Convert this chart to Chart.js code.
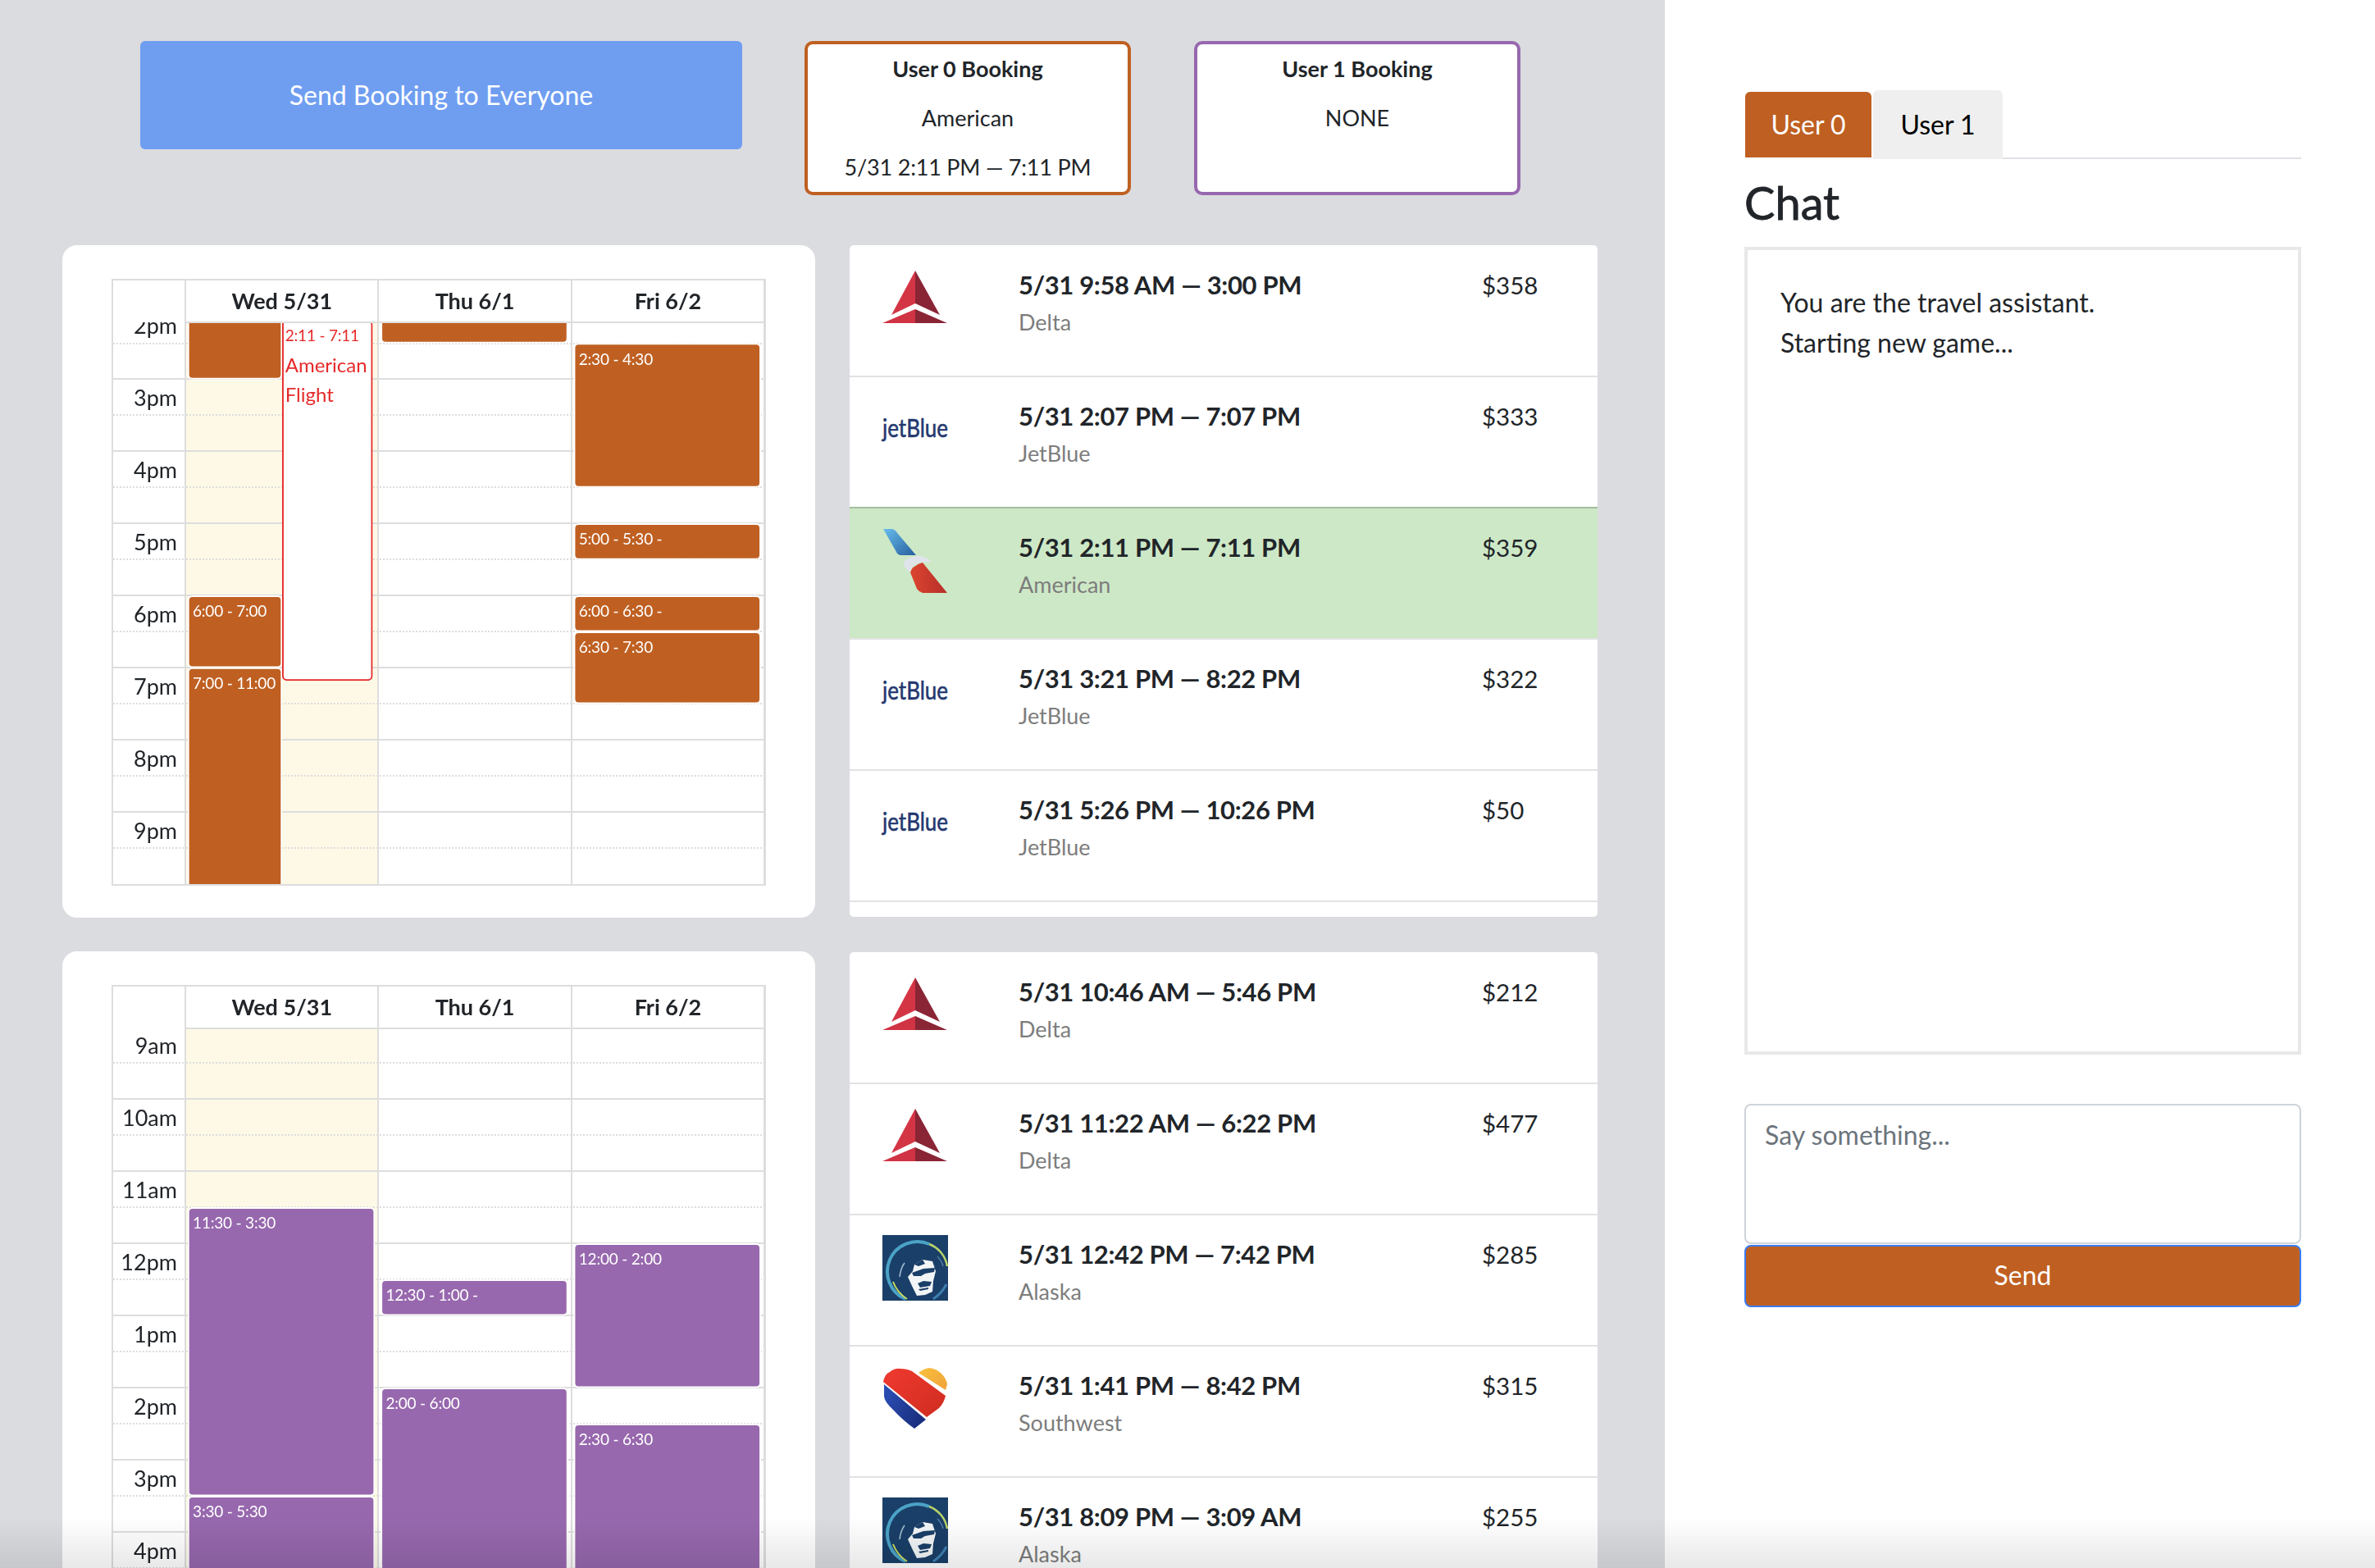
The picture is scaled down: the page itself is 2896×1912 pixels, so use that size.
<!DOCTYPE html>
<html>
<head>
<meta charset="utf-8">
<title>Travel booking</title>
<script src="https://cdn.jsdelivr.net/npm/chart.js@4"></script>
<style>
    html, body { margin: 0; padding: 0; width: 2896px; height: 1912px; overflow: hidden; background: #dbdce0; font-family: Lato, sans-serif; color: #212529; }
    .abs { position: absolute; }
    .mid { position: absolute; transform: translateY(-50%); white-space: nowrap; line-height: 1.2; }
    .center { text-align: center; }
    .card { position: absolute; left: 76px; width: 918px; background: #fff; border-radius: 18px; }
    .panel { position: absolute; left: 2030px; top: 0; width: 866px; height: 1912px; background: #fff; }
    .sendAll { left: 171px; top: 50px; width: 734px; height: 132px; background: #6f9ef1; border-radius: 6px; }
    .booking { top: 50px; width: 390px; height: 180px; background: #fff; border: 4px solid; border-radius: 10px; }
    .frame { position: absolute; left: 136px; width: 794px; border: 2px solid #ddd; background: #fff; overflow: hidden; }
    .frame canvas { display: block; }
    .list { position: absolute; left: 1036px; width: 912px; background: #fff; border-radius: 5px; overflow: hidden; }
    .row { position: absolute; left: 0; width: 912px; height: 158px; border-bottom: 2px solid #e1e2e4; }
    .row.selected { background: #cde8c6; border-top: 2px solid #a2bd9f; margin-top: -2px; }
    .row svg { position: absolute; left: 40px; top: 24px; width: 80px; height: 80px; overflow: visible; }
    .time { left: 206px; top: 48px; font-size: 31px; font-weight: bold; letter-spacing: -0.35px; }
    .airline { left: 206px; top: 93px; font-size: 27px; color: #7d7d7d; }
    .price { left: 771px; top: 48px; font-size: 29.5px; }
    .overlay { position: absolute; left: 0; top: 1850px; width: 2896px; height: 62px; background: linear-gradient(rgba(0,0,0,0), rgba(0,0,0,0.09)); pointer-events: none; }
</style>
</head>
<body>
<svg width="0" height="0" style="position:absolute;">
    <defs>
        <linearGradient id="aaBlue" x1="0" y1="0" x2="1" y2="1"><stop offset="0" stop-color="#68bdec"/><stop offset="1" stop-color="#27609f"/></linearGradient>
        <linearGradient id="aaRed" x1="0" y1="0" x2="1" y2="0"><stop offset="0" stop-color="#dc442f"/><stop offset="1" stop-color="#b5302a"/></linearGradient>
        <linearGradient id="swRed" x1="0" y1="0" x2="1" y2="1"><stop offset="0" stop-color="#f03a30"/><stop offset="1" stop-color="#cf2c20"/></linearGradient>
        <linearGradient id="swBlue" x1="0" y1="0" x2="1" y2="0.5"><stop offset="0" stop-color="#2c50b8"/><stop offset="1" stop-color="#1a2f80"/></linearGradient>
        <linearGradient id="swYellow" x1="0" y1="0" x2="1" y2="1"><stop offset="0" stop-color="#f8c040"/><stop offset="1" stop-color="#f0a238"/></linearGradient>
    </defs>
</svg>

<div class="abs sendAll"></div>
<div class="mid center" style="left:171px;width:734px;top:116px;font-size:32px;color:#fff;">Send Booking to Everyone</div>

<div class="abs booking" style="left:981px;border-color:#bf6022;"></div>
<div class="mid center" style="left:981px;width:398px;top:84px;font-size:27px;font-weight:bold;">User 0 Booking</div>
<div class="mid center" style="left:981px;width:398px;top:144px;font-size:27px;">American</div>
<div class="mid center" style="left:981px;width:398px;top:204px;font-size:27px;letter-spacing:-0.2px;">5/31 2:11 PM — 7:11 PM</div>

<div class="abs booking" style="left:1456px;border-color:#9768ae;"></div>
<div class="mid center" style="left:1456px;width:398px;top:84px;font-size:27px;font-weight:bold;">User 1 Booking</div>
<div class="mid center" style="left:1456px;width:398px;top:144px;font-size:27px;">NONE</div>

<div class="card" style="top:299px;height:820px;"></div>
<div class="card" style="top:1160px;height:800px;"></div>
<div class="frame" style="top:340px;height:736px;"><canvas id="calendarUser0" width="794" height="736"></canvas></div>
<div class="frame" style="top:1201px;height:711px;"><canvas id="calendarUser1" width="794" height="711"></canvas></div>

<div class="list" id="listUser0" style="top:299px;height:819px;"></div>
<div class="list" id="listUser1" style="top:1161px;height:800px;"></div>

<div class="panel"></div>
<div class="abs" style="left:2442px;top:192px;width:364px;height:2px;background:#dee2e6;"></div>
<div class="abs" style="left:2128px;top:112px;width:154px;height:80px;background:#bf6022;border-radius:6px 6px 0 0;"></div>
<div class="abs" style="left:2284px;top:110px;width:158px;height:84px;background:#efefef;border-radius:6px 6px 0 0;"></div>
<div class="mid center" style="left:2128px;width:154px;top:152px;font-size:32px;color:#fff;">User 0</div>
<div class="mid center" style="left:2284px;width:158px;top:152px;font-size:32px;color:#000;">User 1</div>
<div class="mid" style="left:2127px;top:247px;font-size:56px;-webkit-text-stroke:0.8px #212529;">Chat</div>
<div class="abs" style="left:2127px;top:301px;width:671px;height:977px;border:4px solid #e8e8e8;"></div>
<div class="mid" style="left:2171px;top:369px;font-size:32px;">You are the travel assistant.</div>
<div class="mid" style="left:2171px;top:418px;font-size:32px;">Starting new game...</div>
<div class="abs" style="left:2127px;top:1346px;width:675px;height:167px;border:2px solid #ced4da;border-radius:8px;background:#fff;"></div>
<div class="mid" style="left:2152px;top:1384px;font-size:32px;color:#6c757d;">Say something...</div>
<div class="abs" style="left:2127px;top:1518px;width:675px;height:72px;border:2px solid #3b7cf0;border-radius:8px;background:#bf6022;"></div>
<div class="mid center" style="left:2127px;width:679px;top:1555px;font-size:32px;color:#fff;">Send</div>
<div class="overlay"></div>

<script>
const ORANGE = '#bf6022';
const PURPLE = '#9768ae';
const FLIGHT_RED = '#e62a2a';

const dayLabels = ['Wed 5/31', 'Thu 6/1', 'Fri 6/2'];
const todayIndex = 0;

// top calendar (user 0)
const user0Hours = [14, 15, 16, 17, 18, 19, 20, 21];
const user0HourLabels = ['2pm', '3pm', '4pm', '5pm', '6pm', '7pm', '8pm', '9pm'];
const user0Days = [0, 0, 0, 1, 2, 2, 2, 2];
const user0Starts = [13, 18, 19, 12.5, 14.5, 17, 18, 18.5];
const user0Ends = [15, 19, 23, 14.5, 16.5, 17.5, 18.5, 19.5];
const user0Labels = ['', '6:00 - 7:00', '7:00 - 11:00', '', '2:30 - 4:30', '5:00 - 5:30 -', '6:00 - 6:30 -', '6:30 - 7:30'];

const flightDay = 0;
const flightStart = 14.18;
const flightEnd = 19.18;
const flightLabel = '2:11 - 7:11';
const flightTitle = ['American', 'Flight'];

// bottom calendar (user 1)
const user1Hours = [9, 10, 11, 12, 13, 14, 15, 16];
const user1HourLabels = ['9am', '10am', '11am', '12pm', '1pm', '2pm', '3pm', '4pm'];
const user1Days = [0, 0, 1, 1, 2, 2];
const user1Starts = [11.5, 15.5, 12.5, 14, 12, 14.5];
const user1Ends = [15.5, 17.5, 13, 18, 14, 18.5];
const user1Labels = ['11:30 - 3:30', '3:30 - 5:30', '12:30 - 1:00 -', '2:00 - 6:00', '12:00 - 2:00', '2:30 - 6:30'];

// flight lists
const user0Times = ['5/31 9:58 AM — 3:00 PM', '5/31 2:07 PM — 7:07 PM', '5/31 2:11 PM — 7:11 PM', '5/31 3:21 PM — 8:22 PM', '5/31 5:26 PM — 10:26 PM'];
const user0Airlines = ['Delta', 'JetBlue', 'American', 'JetBlue', 'JetBlue'];
const user0Prices = ['$358', '$333', '$359', '$322', '$50'];
const user1Times = ['5/31 10:46 AM — 5:46 PM', '5/31 11:22 AM — 6:22 PM', '5/31 12:42 PM — 7:42 PM', '5/31 1:41 PM — 8:42 PM', '5/31 8:09 PM — 3:09 AM'];
const user1Airlines = ['Delta', 'Delta', 'Alaska', 'Southwest', 'Alaska'];
const user1Prices = ['$212', '$477', '$285', '$315', '$255'];

const logos = {
    Delta: '<polygon points="40,6 40,46 11,60" fill="#d43545"/><polygon points="40,6 70,60 40,46" fill="#8a2535"/><polygon points="40,53 0,70 40,70" fill="#d03343"/><polygon points="40,53 79,70 40,70" fill="#8a2535"/>',
    JetBlue: '<text x="0" y="49" font-family="Lato" font-size="31" fill="#24386f" stroke="#24386f" stroke-width="0.6" textLength="80" lengthAdjust="spacingAndGlyphs">jetBlue</text>',
    American: '<path d="M1,1 L12,1 Q16,2 19,7 L41,33 L22,33 Q18,32 17,29 Z" fill="url(#aaBlue)"/><path d="M26,41 Q28,38 31,37 Q40,33 47,34 Q55,36 60,41 L47,42 Q40,43 37,47 L33,54 Q29,50 27,47 Z" fill="#dfe4ea"/><path d="M49,42 L79,79 L49,79 Q45,78 42,74 L34,54 Q36,48 39,47 Q44,43 49,42 Z" fill="url(#aaRed)"/>',
    Alaska: '<rect width="80" height="80" fill="#1a3f68"/><path d="M57,11 A35,35 0 0 0 28,78" fill="none" stroke="#4ba3c7" stroke-width="4"/><path d="M57,11 A35,35 0 0 1 79,38" fill="none" stroke="#b7d36b" stroke-width="2.5"/><path d="M13,57 C17,68 24,74 30,78" fill="none" stroke="#c8dc5a" stroke-width="2"/><path d="M21,51 C22,42 24,38 27,34" fill="none" stroke="#a9c3d3" stroke-width="1.5"/><path d="M67,26 C71,30 73,34 74,38" fill="none" stroke="#4f7fa3" stroke-width="1.5"/><path d="M78,60 C74,68 68,74 62,78" fill="none" stroke="#3d7fb0" stroke-width="3"/><polygon points="39,36 49,30 61,32 65,44 62,56 61,69 52,73 42,74 36,62 31,51 37,44" fill="#f2f5f6"/><polygon points="36,46 50,41 64,40 63,45 52,47 47,50 38,50" fill="#1a3f68"/><polygon points="43,59 50,56 60,57 58,62 46,64" fill="#1a3f68"/><polygon points="39,36 49,30 52,35 44,38" fill="#1a3f68"/><polygon points="44,66 56,64 56,66 46,68" fill="#1a3f68"/>',
    Southwest: '<path d="M1,19 Q3,9 9,7 Q15,2 22,3 Q30,3 36,6 L77,36 Q75,45 69,51 L54,62 Z" fill="url(#swRed)"/><path d="M44,8 Q50,3 57,2 Q66,3 72,9 Q78,15 79,22 L77,29 Z" fill="url(#swYellow)"/><path d="M2,22 L53,65 L39,76 Q25,66 14,54 Q3,44 2,37 Z" fill="url(#swBlue)"/>'
};

function renderFlightList(containerId, times, airlines, prices, selectedIndex) {
    const container = document.getElementById(containerId);
    times.forEach((time, index) => {
        const row = document.createElement('div');
        row.className = index === selectedIndex ? 'row selected' : 'row';
        row.style.top = `${index * 160 + 1}px`;
        row.innerHTML = `<svg viewBox="0 0 80 80">${logos[airlines[index]]}</svg>
            <div class="mid time">${time}</div>
            <div class="mid airline">${airlines[index]}</div>
            <div class="mid price">${prices[index]}</div>`;
        container.appendChild(row);
    });
}

function buildEvents(days, starts, ends, labels, keep) {
    return days
        .map((day, index) => ({ day, y: [starts[index], ends[index]], label: labels[index] }))
        .filter(event => keep(event));
}

const calendarPlugin = {
    id: 'calendarPlugin',
    beforeDraw(chart) {
        const { ctx, chartArea, scales } = chart;
        const left = scales.x.getPixelForValue(todayIndex);
        const right = scales.x.getPixelForValue(todayIndex + 1);
        ctx.save();
        ctx.fillStyle = '#fdf9e6';
        ctx.fillRect(left, chartArea.top, right - left, chartArea.bottom - chartArea.top);
        ctx.restore();
    },
    afterDatasetsDraw(chart) {
        const { ctx, chartArea } = chart;
        ctx.save();
        ctx.beginPath();
        ctx.rect(chartArea.left, chartArea.top, chartArea.right - chartArea.left, chartArea.bottom - chartArea.top);
        ctx.clip();
        ctx.textBaseline = 'middle';
        ctx.textAlign = 'left';
        chart.data.datasets.forEach((dataset, datasetIndex) => {
            chart.getDatasetMeta(datasetIndex).data.forEach((bar, index) => {
                const event = dataset.data[index];
                const props = bar.getProps(['x', 'y', 'base', 'width']);
                const top = Math.min(props.y, props.base);
                const left = props.x - props.width / 2 + dataset.textInset;
                ctx.fillStyle = dataset.textColor;
                ctx.font = '19px Lato';
                ctx.letterSpacing = '-0.2px';
                ctx.fillText(event.label, left, top + 20);
                (event.title || []).forEach((line, lineIndex) => {
                    ctx.font = '24px Lato';
                    ctx.letterSpacing = '0px';
                    ctx.fillText(line, left, top + 56 + lineIndex * 36);
                });
            });
        });
        ctx.restore();
        // header row hides whatever hour label scrolled under it
        ctx.save();
        ctx.fillStyle = '#fff';
        ctx.fillRect(0, 0, chart.width, chartArea.top);
        ctx.restore();
    }
};

function eventDataset(events, centre, thickness, color) {
    return {
        data: events.map(event => ({ x: event.day + centre, y: event.y, label: event.label })),
        backgroundColor: color,
        borderColor: '#fff',
        borderWidth: 2,
        borderRadius: 6,
        borderSkipped: false,
        barThickness: thickness,
        grouped: false,
        clip: 0,
        textColor: '#fff',
        textInset: 6
    };
}

function renderCalendar(canvasId, hours, hourLabels, yMin, yMax, datasets) {
    const isHalfHour = value => value % 1 !== 0;
    new Chart(document.getElementById(canvasId), {
        type: 'bar',
        data: { datasets },
        plugins: [calendarPlugin],
        options: {
            responsive: false,
            animation: false,
            events: [],
            layout: { padding: 0 },
            plugins: { legend: { display: false }, tooltip: { enabled: false } },
            scales: {
                x: {
                    type: 'linear',
                    position: 'top',
                    min: 0,
                    max: dayLabels.length,
                    offset: false,
                    afterBuildTicks: axis => { axis.ticks = [0, 1, 2, 3].map(value => ({ value })); },
                    afterFit: axis => { axis.height = 51; },
                    grid: { z: 1, color: '#ddd', lineWidth: 2, tickLength: 51, offset: false },
                    border: { z: 1, color: '#ddd', width: 2 },
                    ticks: {
                        z: 1,
                        autoSkip: false,
                        maxRotation: 0,
                        minRotation: 0,
                        labelOffset: 117.75,
                        padding: -42,
                        color: '#212529',
                        font: { family: 'Lato', size: 27, weight: 'bold' },
                        callback: value => dayLabels[value] || ''
                    }
                },
                y: {
                    type: 'linear',
                    reverse: true,
                    min: yMin,
                    max: yMax,
                    afterBuildTicks: axis => {
                        axis.ticks = hours.flatMap(hour => [{ value: hour }, { value: hour + 0.5 }]);
                    },
                    afterFit: axis => { axis.width = 88; },
                    grid: {
                        color: '#ddd',
                        lineWidth: 2,
                        tickLength: 88,
                        tickBorderDash: ctx => ctx.tick && isHalfHour(ctx.tick.value) ? [2, 2] : []
                    },
                    border: {
                        color: '#ddd',
                        width: 2,
                        dash: ctx => ctx.tick && isHalfHour(ctx.tick.value) ? [2, 2] : []
                    },
                    ticks: {
                        autoSkip: false,
                        padding: -78,
                        labelOffset: 24,
                        color: '#212529',
                        font: { family: 'Lato', size: 27 },
                        callback: value => hourLabels[hours.indexOf(value)] || ''
                    }
                }
            }
        }
    });
}

renderFlightList('listUser0', user0Times, user0Airlines, user0Prices, 2);
renderFlightList('listUser1', user1Times, user1Airlines, user1Prices, -1);

const user0Half = buildEvents(user0Days, user0Starts, user0Ends, user0Labels, event => event.day === flightDay);
const user0Full = buildEvents(user0Days, user0Starts, user0Ends, user0Labels, event => event.day !== flightDay);
const user1Full = buildEvents(user1Days, user1Starts, user1Ends, user1Labels, () => true);

renderCalendar('calendarUser0', user0Hours, user0HourLabels, 14.21, 22, [
    {
        data: [{ x: flightDay + 0.736, y: [flightStart, flightEnd], label: flightLabel, title: flightTitle }],
        backgroundColor: '#fff',
        borderColor: FLIGHT_RED,
        borderWidth: 2,
        borderRadius: 6,
        borderSkipped: false,
        barThickness: 110,
        grouped: false,
        clip: 0,
        textColor: FLIGHT_RED,
        textInset: 3.5
    },
    eventDataset(user0Half, 0.257, 115, ORANGE),
    eventDataset(user0Full, 0.4975, 228, ORANGE)
]);

renderCalendar('calendarUser1', user1Hours, user1HourLabels, 9.02, 16.52, [
    eventDataset(user1Full, 0.4975, 228, PURPLE)
]);
</script>
</body>
</html>
